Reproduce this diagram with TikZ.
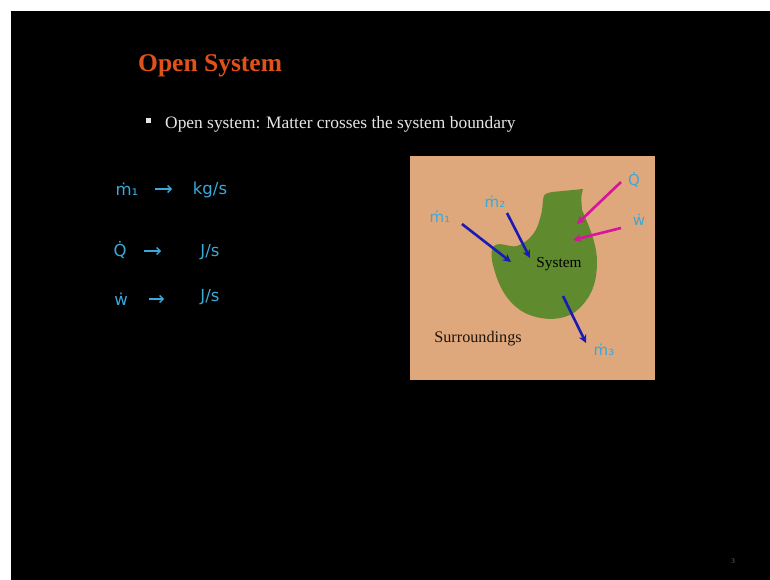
\documentclass[tikz,border=0pt]{standalone}
\usepackage{fontspec}
\setmainfont{Liberation Serif}
\newfontfamily\handfont{DejaVu Sans}
\usetikzlibrary{arrows.meta}
\definecolor{titleorange}{HTML}{E0521A}
\definecolor{peach}{HTML}{DFA77C}
\definecolor{blobgreen}{HTML}{5F8A2E}
\definecolor{hand}{HTML}{3AA9DA}
\definecolor{arrblue}{HTML}{1A1AB8}
\definecolor{arrmag}{HTML}{D8139E}
\definecolor{bodytext}{HTML}{E6E6E6}
\tikzset{
  handtxt/.style={text=hand, font=\handfont\fontsize{16.5}{18}\selectfont, inner sep=0pt},
  handsmall/.style={text=hand, font=\handfont\fontsize{15}{17}\selectfont, inner sep=0pt},
  handarrow/.style={hand, line width=1.4pt, -{Straight Barb[length=3.5pt,width=7pt]}},
  flowblue/.style={arrblue, line width=2.6pt, -{Stealth[length=8pt,width=8pt]}},
  flowmag/.style={arrmag, line width=2.6pt, -{Stealth[length=8pt,width=8pt]}},
}
\begin{document}
\begin{tikzpicture}[x=1pt,y=-1pt]
\useasboundingbox (0,0) rectangle (770,580);
\fill[white] (0,0) rectangle (770,580);
\fill[black] (11,11) rectangle (770,580);

% title and bullet
\node[anchor=west, text=titleorange, font=\fontsize{25.5}{28}\selectfont\bfseries, inner sep=0pt] (title) at (138,66) {Open System};
\node[fill=bodytext, minimum size=5pt, inner sep=0pt] (bullet) at (148,121) {};
\node[anchor=west, text=bodytext, font=\fontsize{17.4}{20}\selectfont, inner sep=0pt] (line1) at (165,124) {Open system: Matter crosses the system boundary};

% left handwritten notes
\node[handtxt] (lm) at (127,189) {ṁ₁};
\coordinate (la1) at (155,189); \coordinate (lb1) at (172,189);
\draw[handarrow] (la1) -- (lb1);
\node[handtxt] (lkg) at (210,190) {kg/s};
\node[handtxt] (lq) at (120,250) {Q̇};
\coordinate (la2) at (144,251); \coordinate (lb2) at (161,251);
\draw[handarrow] (la2) -- (lb2);
\node[handtxt] (lj1) at (210,252) {J/s};
\node[handtxt] (lw) at (121,299) {ẇ};
\coordinate (la3) at (149,299); \coordinate (lb3) at (164,299);
\draw[handarrow] (la3) -- (lb3);
\node[handtxt] (lj2) at (210,297) {J/s};

% diagram
\fill[peach] (410,156) rectangle (655,380);
\fill[blobgreen] (543,200) .. controls (544,194) .. (552,192)
  -- (583,189) .. controls (581,196) .. (582,210)
  .. controls (590,228) and (597,245) .. (597,262)
  .. controls (597,285) and (590,300) .. (575,312)
  .. controls (560,322) and (540,320) .. (525,313)
  .. controls (510,305) and (500,290) .. (495,272)
  .. controls (491,260) and (490,250) .. (494,246)
  .. controls (500,241) and (510,248) .. (517,246)
  .. controls (528,242) and (536,233) .. (539,222)
  .. controls (542,212) .. (543,200) -- cycle;

\node[font=\fontsize{15.3}{17}\selectfont, text=black, inner sep=0pt] (sys) at (559,264) {System};
\node[font=\fontsize{16.2}{18}\selectfont, text=black!85!brown, inner sep=0pt] (sur) at (478,339) {Surroundings};

\coordinate (m1s) at (462,224); \coordinate (m1e) at (511,262);
\coordinate (m2s) at (507,213); \coordinate (m2e) at (530,258);
\coordinate (qs) at (621,182); \coordinate (qe) at (577,224);
\coordinate (ws) at (621,228); \coordinate (we) at (573,240);
\coordinate (m3s) at (563,296); \coordinate (m3e) at (586,343);
\draw[flowblue] (m1s) -- (m1e);
\draw[flowblue] (m2s) -- (m2e);
\draw[flowmag] (qs) -- (qe);
\draw[flowmag] (ws) -- (we);
\draw[flowblue] (m3s) -- (m3e);

\node[handsmall] (lm1) at (440,217) {ṁ₁};
\node[handsmall] (lm2) at (495,202) {ṁ₂};
\node[handsmall] (lq2) at (634,180) {Q̇};
\node[handsmall] (lw2) at (639,220) {ẇ};
\node[handsmall] (lm3) at (604,350) {ṁ₃};

\node[text=black!55, font=\fontsize{7}{8}\selectfont, inner sep=0pt] (pg) at (733,561) {3};
\end{tikzpicture}
\end{document}
